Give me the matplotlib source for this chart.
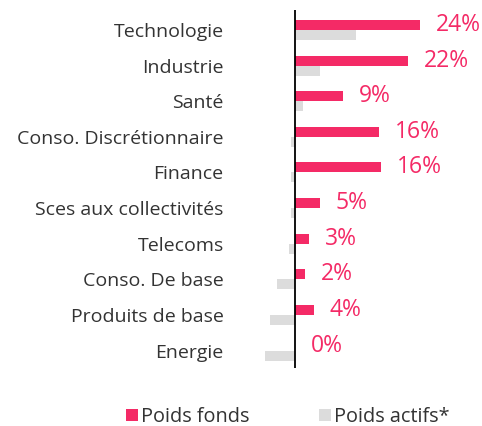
import matplotlib.pyplot as plt
import numpy as np

# data
sectors = ["Technologie", "Industrie", "Santé", "Conso. Discrétionnaire", "Finance",
           "Sces aux collectivités", "Telecoms", "Conso. De base", "Produits de base", "Energie"]
fund_weights = [24, 22, 9, 16, 16, 5, 3, 2, 4, 0]
fund_bars = [24.0, 21.7, 9.2, 16.1, 16.5, 4.8, 2.7, 1.9, 3.6, 0.0]
active_weights = [11.8, 4.9, 1.5, -0.8, -0.8, -0.8, -1.2, -3.5, -4.8, -5.8]

pink = "#F42A66"
grey = "#DCDCDC"

plt.rcParams['font.family'] = ['Open Sans', 'DejaVu Sans']

fig = plt.figure(figsize=(4.82, 4.26), dpi=100)
ax = fig.add_axes([261.2 / 482, 58 / 426, 221 / 482, 358 / 426])

y = np.arange(len(sectors))
h = 0.28
ax.barh(y - h / 2, fund_bars, height=h, color=pink, label="Poids fonds")
ax.barh(y + h / 2, active_weights, height=h, color=grey, label="Poids actifs*")
ax.axvline(0, color="black", lw=1.3)

for yi, v, lbl in zip(y, fund_bars, fund_weights):
    ax.annotate(f"{lbl}%", xy=(max(v, 0), yi - h / 2), xytext=(11.5, 0),
                textcoords="offset points", va="center", ha="left",
                color=pink, fontsize=16.5)

ax.set_xlim(-6.5, 36)
ax.set_ylim(9.49, -0.56)
ax.set_yticks(y)
ax.set_yticklabels(sectors, fontsize=14, color="#333333")
ax.tick_params(axis="y", length=0, pad=27)
ax.set_xticks([])

for s in ["top", "right", "bottom", "left"]:
    ax.spines[s].set_visible(False)

fig.legend(loc="center", bbox_to_anchor=(288 / 482, 1 - 417 / 426), ncol=2,
           frameon=False, fontsize=14.3, handlelength=0.6, handleheight=0.6,
           handletextpad=0.15, columnspacing=3.5, labelcolor="#333333")

fig.savefig("out.png", dpi=100)
